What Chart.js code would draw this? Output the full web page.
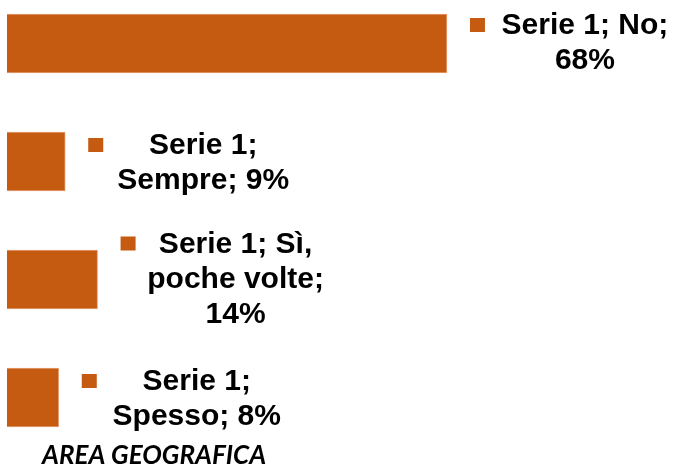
<!DOCTYPE html>
<html lang="it">
<head>
    <meta charset="UTF-8">
    <title>Area geografica</title>
    <script src="https://cdn.jsdelivr.net/npm/chart.js"></script>
    <style>
        body { margin: 0; background: #fff; }
        #wrap { width: 675px; height: 466px; }
    </style>
</head>
<body>
    <div id="wrap"><canvas id="chart"></canvas></div>

    <script>
        const seriesName = 'Serie 1';
        const categories = ['No', 'Sempre', 'Sì, poche volte', 'Spesso'];
        const values = [68, 9, 14, 8];
        const axisTitle = 'AREA GEOGRAFICA';

        const barColor = '#C55A11';
        const labelFont = 'bold 30px "Liberation Sans", Arial, sans-serif';

        // split a label into lines no wider than maxW
        const wrap = (ctx, text, maxW) => {
            const words = text.split(' ');
            const lines = [];
            let cur = '';
            words.forEach(w => {
                const test = cur ? cur + ' ' + w : w;
                if (cur && ctx.measureText(test).width > maxW) {
                    lines.push(cur);
                    cur = w;
                } else {
                    cur = test;
                }
            });
            if (cur) lines.push(cur);
            return lines;
        };

        const barLabels = {
            id: 'barLabels',
            afterDatasetsDraw(chart) {
                const ctx = chart.ctx;
                const meta = chart.getDatasetMeta(0);
                ctx.save();
                ctx.font = labelFont;
                ctx.textAlign = 'center';
                ctx.textBaseline = 'middle';
                meta.data.forEach((bar, i) => {
                    const text = seriesName + '; ' + categories[i] + '; ' + values[i] + '%';
                    const lines = wrap(ctx, text, 200);
                    const lh = 35;
                    const firstY = bar.y - (lines.length - 1) * lh / 2 + (lines.length === 2 && i > 0 ? 2 : 0);
                    const left = bar.x + 23;
                    ctx.fillStyle = barColor;
                    ctx.fillRect(left, firstY - 8, 15, 14);
                    ctx.fillStyle = '#000';
                    lines.forEach((ln, k) => {
                        ctx.fillText(ln, left + 115, firstY + k * lh);
                    });
                });
                ctx.font = 'italic bold 26px Lato, "Open Sans", sans-serif';
                ctx.textAlign = 'left';
                ctx.textBaseline = 'alphabetic';
                ctx.fillStyle = '#000';
                ctx.fillText(axisTitle, 42, 464);
                ctx.restore();
            }
        };

        new Chart(document.getElementById('chart'), {
            type: 'bar',
            data: {
                labels: categories,
                datasets: [{
                    label: seriesName,
                    data: values,
                    backgroundColor: barColor,
                    borderColor: '#E8A27A',
                    borderWidth: 1,
                    barThickness: 59,
                    clip: false
                }]
            },
            options: {
                indexAxis: 'y',
                responsive: true,
                maintainAspectRatio: false,
                animation: false,
                layout: {
                    padding: { left: 7, right: 21, top: 43.5, bottom: 68.5 }
                },
                plugins: {
                    legend: { display: false },
                    tooltip: { enabled: false }
                },
                scales: {
                    x: { display: false, min: 0, max: 100 },
                    y: { display: false, offset: false }
                }
            },
            plugins: [barLabels]
        });
    </script>
</body>
</html>
